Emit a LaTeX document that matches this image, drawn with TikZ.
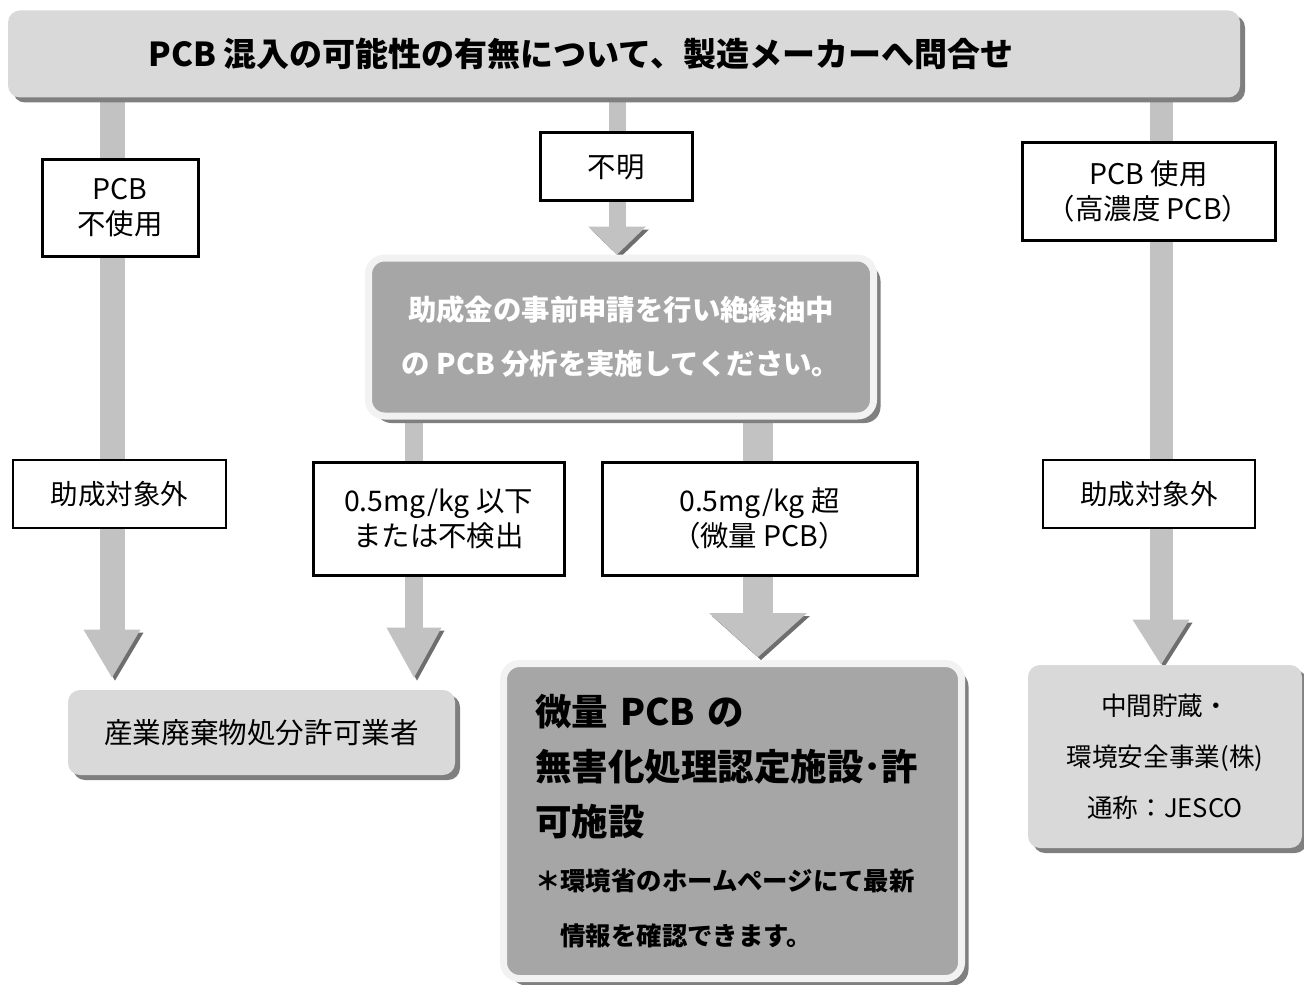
\documentclass[tikz,border=0pt]{standalone}
\usepackage{fontspec}
\setmainfont{Noto Sans CJK JP}
\usetikzlibrary{arrows.meta,shadows,backgrounds}
\definecolor{boxgray}{HTML}{D9D9D9}
\definecolor{panelgray}{HTML}{A6A6A6}
\definecolor{framegray}{HTML}{F2F2F2}
\definecolor{shadowgray}{HTML}{7F7F7F}
\definecolor{shaftgray}{HTML}{C2C2C2}
\definecolor{shaftshadow}{HTML}{6E6E6E}

\tikzset{
  roundbox/.style={rounded corners=6pt, fill=boxgray, inner sep=0pt, align=center,
    drop shadow={shadow xshift=2.5pt, shadow yshift=-2.5pt, fill=shadowgray, opacity=1}},
  panel/.style={rounded corners=8pt, fill=panelgray, draw=framegray, line width=3.5pt, inner sep=0pt,
    drop shadow={shadow xshift=3.5pt, shadow yshift=-3.5pt, fill=shadowgray, opacity=1}},
  tagbox/.style={draw, line width=1.5pt, fill=white, inner sep=0pt, align=center,
    font=\fontsize{14.2}{17.5}\selectfont},
  ngbox/.style={draw, line width=0.7pt, fill=white, inner sep=0pt,
    font=\fontsize{13.75}{17.5}\selectfont},
  shaft/.style n args={3}{draw=shaftgray, line width=#1,
    -{Triangle[width=#2, length=#3, line width=0pt]},
    preaction={draw=shaftshadow, transform canvas={shift={(1.5pt,-1.5pt)}}}}
}

\begin{document}
\begin{tikzpicture}[x=0.5pt, y=-0.5pt]
  \useasboundingbox (0,0) rectangle (1304,984);
  %\draw[help lines, step=100] (0,0) grid (1304,984);

  \node[roundbox, minimum width=616pt, minimum height=43.5pt,
        font=\bfseries\fontsize{16.5}{18}\selectfont] (top) at (624,54)
        {PCB 混入の可能性の有無について、製造メーカーへ問合せ\hspace{43pt}};

  % left column
  \node[tagbox, minimum width=78pt, minimum height=48.5pt] (pcbno) at (120,208) {PCB\\不使用};
  \node[ngbox, minimum width=106.5pt, minimum height=34pt] (ngL) at (119.5,494) {助成対象外};
  \node[roundbox, minimum width=193.5pt, minimum height=42.5pt,
        font=\fontsize{14.3}{18}\selectfont] (destL) at (261.5,732.5) {産業廃棄物処分許可業者};

  % middle column
  \node[tagbox, minimum width=76pt, minimum height=34pt] (unk) at (616,167) {不明};
  \node[panel, minimum width=252.5pt, minimum height=79pt, align=center, text=white,
        font=\bfseries\fontsize{14.2}{27}\selectfont] (mid) at (621,337)
        {助成金の事前申請を行い絶縁油中\\の PCB 分析を実施してください。};
  \node[tagbox, minimum width=125.5pt, minimum height=56.5pt] (low) at (438.5,518.5)
        {0.5mg/kg 以下\\または不検出};
  \node[tagbox, minimum width=157.5pt, minimum height=56.5pt] (high) at (759.5,518.5)
        {0.5mg/kg 超\\（微量 PCB）};
  \node[panel, minimum width=229pt, minimum height=157.5pt, text width=197.5pt, align=left,
        font=\bfseries\fontsize{18.25}{27.5}\selectfont] (trace) at (732.5,821)
        {微量 PCB の\\無害化処理認定施設･許\\可施設\\
         \fontsize{12.7}{27.5}\selectfont ＊環境省のホームページにて最新\\
         \hspace*{1em}情報を確認できます。};

  % right column
  \node[tagbox, minimum width=126.5pt, minimum height=48.5pt] (pcbyes) at (1148.5,191.5)
        {PCB 使用\\（高濃度 PCB）};
  \node[ngbox, minimum width=106pt, minimum height=34pt] (ngR) at (1149,494) {助成対象外};
  \node[roundbox, minimum width=137pt, minimum height=91.5pt,
        font=\fontsize{12.8}{25.5}\selectfont] (jesco) at (1165,756.5)
        {中間貯蔵・\\環境安全事業(株)\\通称：JESCO};

  \coordinate (colL) at (112,0);
  \coordinate (colM) at (617,0);
  \coordinate (colA) at (414,0);
  \coordinate (colB) at (758,0);
  \coordinate (colR) at (1161,0);

  \begin{scope}[on background layer]
    \draw[shaft={12.5pt}{28.5pt}{24pt}, shorten >=6pt] (top.south -| colL) -- (destL.north -| colL);
    \draw[shaft={8.5pt}{29pt}{14pt}] (top.south -| colM) -- (mid.north -| colM);
    \draw[shaft={9pt}{27.5pt}{25pt}, shorten >=6pt] (mid.south -| colA) -- (destL.north -| colA);
    \draw[shaft={15pt}{49pt}{22pt}, shorten >=1.5pt] (mid.south -| colB) -- (trace.north -| colB);
    \draw[shaft={11.5pt}{28.5pt}{22.5pt}] (top.south -| colR) -- (jesco.north -| colR);
  \end{scope}
\end{tikzpicture}
\end{document}
